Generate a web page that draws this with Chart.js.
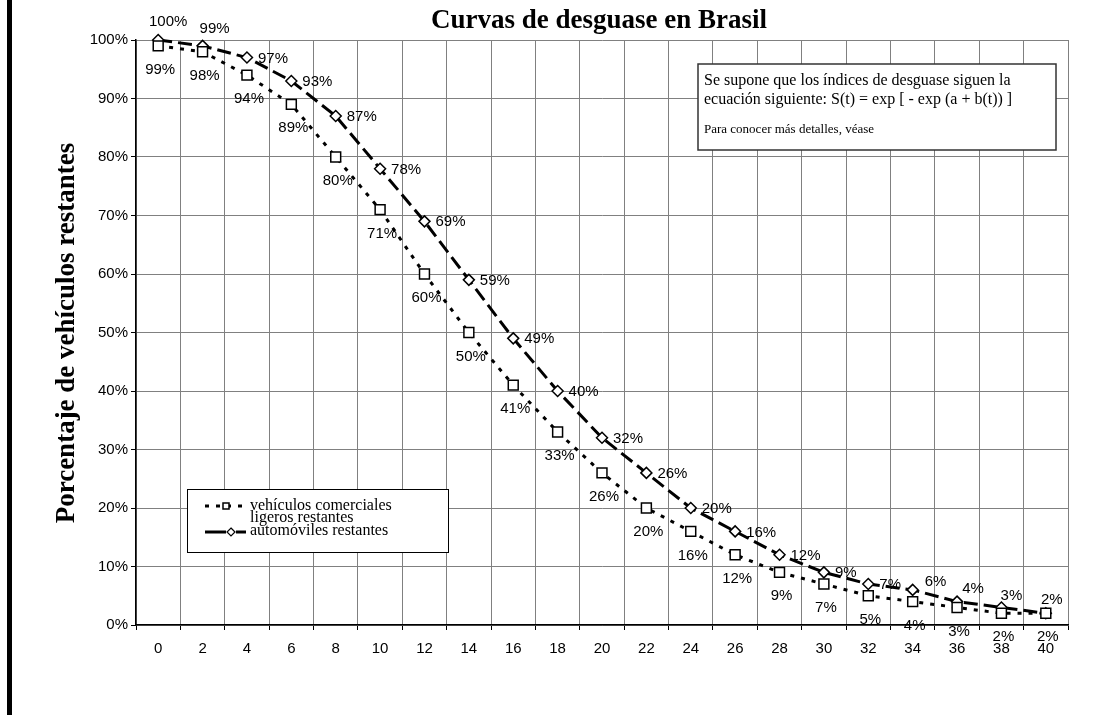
<!DOCTYPE html>
<html>
<head>
<meta charset="utf-8">
<script src="https://cdn.jsdelivr.net/npm/chart.js@4.4.1/dist/chart.umd.min.js"></script>
<style>
  body { margin: 0; background: #fff; }
  canvas { display: block; }
</style>
</head>
<body>
<canvas id="grafico" width="1099" height="715"></canvas>
<script>
// datos
const anios = ["0","2","4","6","8","10","12","14","16","18","20","22","24","26","28","30","32","34","36","38","40"];
const comerciales = [99,98,94,89,80,71,60,50,41,33,26,20,16,12,9,7,5,4,3,2,2];
const automoviles = [100,99,97,93,87,78,69,59,49,40,32,26,20,16,12,9,7,6,4,3,2];
const marcasY = [0,10,20,30,40,50,60,70,80,90,100];

const serif = "'Liberation Serif', 'Times New Roman', serif";
const sans = "'Liberation Sans', Arial, sans-serif";

// donde va cada etiqueta respecto a su punto
function posEtiqueta(serie, i) {
  if (serie === 0) return { dx: 2, dy: 24, align: "center" };
  if (i === 0) return { dx: 10, dy: -18, align: "center" };
  if (i === 1) return { dx: 12, dy: -17, align: "center" };
  if (i === 17) return { dx: 12, dy: -8, align: "left" };
  if (i === 18) return { dx: 16, dy: -13, align: "center" };
  if (i === 19) return { dx: 10, dy: -12, align: "center" };
  if (i === 20) return { dx: 6, dy: -13, align: "center" };
  return { dx: 11, dy: 1, align: "left" };
}

const etiquetas = {
  id: "etiquetas",
  afterDatasetsDraw(chart) {
    const ctx = chart.ctx;
    ctx.save();
    ctx.font = "15px " + sans;
    ctx.fillStyle = "#000";
    ctx.textBaseline = "middle";
    chart.data.datasets.forEach((ds, s) => {
      const meta = chart.getDatasetMeta(s);
      meta.data.forEach((pt, i) => {
        const p = posEtiqueta(s, i);
        ctx.textAlign = p.align;
        ctx.fillText(Math.round(ds.data[i]) + "%", pt.x + p.dx, pt.y + p.dy);
      });
    });
    ctx.restore();
  }
};

const adornos = {
  id: "adornos",
  beforeDraw(chart) {
    const ctx = chart.ctx;
    ctx.save();
    ctx.fillStyle = "#fff";
    ctx.fillRect(0, 0, chart.width, chart.height);
    ctx.fillStyle = "#000";
    ctx.fillRect(7, 0, 5, chart.height);
    ctx.restore();
  },
  afterDraw(chart) {
    const ctx = chart.ctx;
    ctx.save();
    ctx.fillStyle = "#000";

    // titulo
    ctx.font = "bold 27px " + serif;
    ctx.textAlign = "center";
    ctx.textBaseline = "middle";
    ctx.fillText("Curvas de desguase en Brasil", 599, 21);

    // titulo eje y
    ctx.save();
    ctx.translate(67, 333);
    ctx.rotate(-Math.PI / 2);
    ctx.font = "bold 27px " + serif;
    ctx.fillText("Porcentaje de vehículos restantes", 0, 0);
    ctx.restore();

    // cuadro de texto
    ctx.fillStyle = "#fff";
    ctx.fillRect(698, 64, 358, 86);
    ctx.strokeStyle = "#333";
    ctx.lineWidth = 1.5;
    ctx.strokeRect(698, 64, 358, 86);
    ctx.fillStyle = "#000";
    ctx.textAlign = "left";
    ctx.textBaseline = "alphabetic";
    ctx.font = "16px " + serif;
    ctx.fillText("Se supone que los índices de desguase siguen la", 704, 85);
    ctx.fillText("ecuación siguiente: S(t) = exp [ - exp (a + b(t)) ]", 704, 104);
    ctx.font = "13px " + serif;
    ctx.fillText("Para conocer más detalles, véase", 704, 133);

    // leyenda
    ctx.fillStyle = "#fff";
    ctx.fillRect(187, 489, 261, 63);
    ctx.strokeStyle = "#000";
    ctx.lineWidth = 1;
    ctx.strokeRect(187.5, 489.5, 261, 63);

    const ds = chart.data.datasets;
    ctx.lineWidth = 3;
    ctx.strokeStyle = "#000";
    // serie 1
    ctx.setLineDash(ds[0].borderDash);
    ctx.beginPath(); ctx.moveTo(205, 506); ctx.lineTo(245, 506); ctx.stroke();
    ctx.setLineDash([]);
    ctx.fillStyle = "#fff"; ctx.lineWidth = 1.5;
    ctx.fillRect(223, 503, 6, 6); ctx.strokeRect(223, 503, 6, 6);
    // serie 2
    ctx.lineWidth = 3;
    ctx.beginPath(); ctx.moveTo(205, 532); ctx.lineTo(226, 532); ctx.stroke();
    ctx.beginPath(); ctx.moveTo(236, 532); ctx.lineTo(246, 532); ctx.stroke();
    ctx.lineWidth = 1.2;
    ctx.beginPath();
    ctx.moveTo(231, 528); ctx.lineTo(235, 532); ctx.lineTo(231, 536); ctx.lineTo(227, 532); ctx.closePath();
    ctx.fillStyle = "#fff"; ctx.fill(); ctx.stroke();

    ctx.fillStyle = "#000";
    ctx.font = "16px " + serif;
    ctx.textBaseline = "middle";
    ctx.fillText("vehículos comerciales", 250, 506);
    ctx.fillText("ligeros restantes", 250, 518);
    ctx.fillText("automóviles restantes", 250, 531);
    ctx.restore();
  }
};

new Chart(document.getElementById("grafico"), {
  type: "line",
  data: {
    labels: anios,
    datasets: [
      {
        label: "vehículos comerciales ligeros restantes",
        data: comerciales,
        borderColor: "#000",
        borderWidth: 3,
        borderDash: [4, 7],
        pointStyle: "rect",
        pointRadius: 7,
        pointBorderWidth: 1.5,
        pointBorderColor: "#000",
        pointBackgroundColor: "#fff",
        tension: 0,
        clip: false
      },
      {
        label: "automóviles restantes",
        data: automoviles,
        borderColor: "#000",
        borderWidth: 3,
        borderDash: [14, 6],
        pointStyle: "rectRot",
        pointRadius: 5.5,
        pointBorderWidth: 1.5,
        pointBorderColor: "#000",
        pointBackgroundColor: "#fff",
        tension: 0,
        clip: false
      }
    ]
  },
  options: {
    responsive: false,
    animation: false,
    devicePixelRatio: 1,
    layout: { padding: { top: 40, right: 31, left: 0, bottom: 0 } },
    plugins: {
      legend: { display: false },
      title: { display: false },
      tooltip: { enabled: false }
    },
    scales: {
      x: {
        type: "category",
        offset: true,
        grid: { offset: true, color: "#808080", lineWidth: 1, tickColor: "#000", tickLength: 5 },
        border: { color: "#000", width: 1.5 },
        ticks: { color: "#000", font: { family: sans, size: 15 }, padding: 10, maxRotation: 0, autoSkip: false },
        afterFit(scale) { scale.height = 90; }
      },
      y: {
        min: 0,
        max: 100,
        afterBuildTicks(scale) { scale.ticks = marcasY.map(v => ({ value: v })); },
        grid: { color: "#808080", lineWidth: 1, tickColor: "#000", tickLength: 5 },
        border: { color: "#000", width: 1.5 },
        ticks: { color: "#000", font: { family: sans, size: 15 }, padding: 3, callback: v => v + "%" },
        afterFit(scale) { scale.width = 136; }
      }
    }
  },
  plugins: [adornos, etiquetas]
});
</script>
</body>
</html>
